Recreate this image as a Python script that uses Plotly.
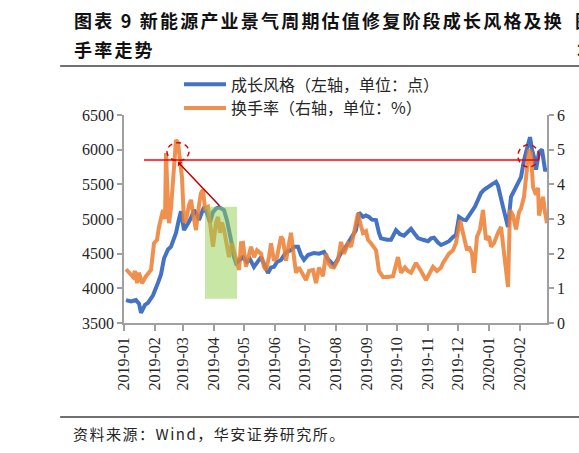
import plotly.graph_objects as go

# 成长风格（左轴，点）
growth_dates = [
    "2019-01-03", "2019-01-08", "2019-01-13", "2019-01-16", "2019-01-18", "2019-01-22", "2019-01-25",
    "2019-01-30", "2019-02-04", "2019-02-07", "2019-02-10", "2019-02-14", "2019-02-17", "2019-02-20",
    "2019-02-22", "2019-02-25", "2019-02-27", "2019-03-02", "2019-03-05", "2019-03-07", "2019-03-10",
    "2019-03-12", "2019-03-15", "2019-03-17", "2019-03-20", "2019-03-22", "2019-03-25", "2019-03-28",
    "2019-03-31", "2019-04-03", "2019-04-06", "2019-04-09", "2019-04-11", "2019-04-14", "2019-04-16",
    "2019-04-18", "2019-04-21", "2019-04-23", "2019-04-26", "2019-04-30", "2019-05-04", "2019-05-07",
    "2019-05-11", "2019-05-14", "2019-05-18", "2019-05-22", "2019-05-25", "2019-05-28", "2019-05-31",
    "2019-06-03", "2019-06-07", "2019-06-12", "2019-06-17", "2019-06-20", "2019-06-24", "2019-06-27",
    "2019-06-30", "2019-07-04", "2019-07-10", "2019-07-15", "2019-07-20", "2019-07-24", "2019-07-27",
    "2019-07-30", "2019-08-02", "2019-08-06", "2019-08-10", "2019-08-13", "2019-08-17", "2019-08-21",
    "2019-08-24", "2019-08-28", "2019-08-31", "2019-09-03", "2019-09-06", "2019-09-10", "2019-09-13",
    "2019-09-15", "2019-09-21", "2019-09-25", "2019-09-30", "2019-10-04", "2019-10-08", "2019-10-12",
    "2019-10-15", "2019-10-19", "2019-10-22", "2019-10-27", "2019-11-01", "2019-11-04", "2019-11-07",
    "2019-11-11", "2019-11-14", "2019-11-18", "2019-11-22", "2019-11-26", "2019-11-29", "2019-12-02",
    "2019-12-06", "2019-12-09", "2019-12-14", "2019-12-18", "2019-12-21", "2019-12-24", "2019-12-27",
    "2020-01-01", "2020-01-04", "2020-01-08", "2020-01-10", "2020-01-15", "2020-01-20", "2020-01-23",
    "2020-01-28", "2020-01-31", "2020-02-02", "2020-02-05", "2020-02-08", "2020-02-11", "2020-02-13",
    "2020-02-15", "2020-02-17", "2020-02-20", "2020-02-23", "2020-02-26", "2020-02-28",
]
growth_values = [
    3830, 3810, 3830, 3780, 3645, 3760, 3790,
    3900, 4080, 4200, 4430, 4560, 4600, 4700,
    4800, 5000, 5110, 4840, 4900, 4960, 5050,
    5130, 5060, 4985, 5100, 5170, 5080, 4950,
    5100, 5150, 5170, 5150, 5130, 4980, 4850,
    4700, 4450, 4365, 4400, 4450, 4380, 4420,
    4310, 4380, 4450, 4320, 4220, 4300, 4310,
    4380, 4410, 4520, 4550, 4600, 4600, 4480,
    4410, 4480, 4510, 4500, 4525, 4420, 4365,
    4330, 4400, 4510, 4580, 4650, 4760, 4840,
    5090, 5030, 5050, 5030, 4990, 4985, 4800,
    4720, 4700, 4700, 4840, 4780, 4760, 4820,
    4860, 4780, 4725, 4700, 4680, 4720, 4730,
    4660, 4625, 4650, 4680, 4740, 4770, 5030,
    4990, 4985, 5090, 5180, 5275, 5375, 5420,
    5460, 5500, 5535, 5480, 5175, 4885, 5320,
    5460, 5520, 5605, 5850, 6040, 6180, 6000,
    5895, 5710, 5965, 6000, 5710, 5705,
]

# 换手率（右轴，%）
turnover_dates = [
    "2019-01-03", "2019-01-06", "2019-01-10", "2019-01-12", "2019-01-14", "2019-01-16", "2019-01-19",
    "2019-01-23", "2019-01-28", "2019-01-31", "2019-02-03", "2019-02-05", "2019-02-09", "2019-02-11",
    "2019-02-12", "2019-02-14", "2019-02-15", "2019-02-17", "2019-02-19", "2019-02-21", "2019-02-22",
    "2019-02-24", "2019-02-26", "2019-02-28", "2019-03-02", "2019-03-04", "2019-03-07", "2019-03-09",
    "2019-03-12", "2019-03-14", "2019-03-17", "2019-03-19", "2019-03-21", "2019-03-23", "2019-03-26",
    "2019-03-29", "2019-03-31", "2019-04-03", "2019-04-05", "2019-04-07", "2019-04-09", "2019-04-11",
    "2019-04-14", "2019-04-16", "2019-04-19", "2019-04-22", "2019-04-24", "2019-04-26", "2019-04-28",
    "2019-04-30", "2019-05-03", "2019-05-06", "2019-05-08", "2019-05-11", "2019-05-14", "2019-05-18",
    "2019-05-21", "2019-05-23", "2019-05-26", "2019-05-28", "2019-05-31", "2019-06-03", "2019-06-07",
    "2019-06-09", "2019-06-12", "2019-06-15", "2019-06-17", "2019-06-20", "2019-06-22", "2019-06-25",
    "2019-06-29", "2019-07-02", "2019-07-05", "2019-07-09", "2019-07-12", "2019-07-15", "2019-07-19",
    "2019-07-22", "2019-07-25", "2019-07-27", "2019-07-30", "2019-08-03", "2019-08-06", "2019-08-09",
    "2019-08-13", "2019-08-16", "2019-08-19", "2019-08-21", "2019-08-23", "2019-08-26", "2019-08-28",
    "2019-08-31", "2019-09-02", "2019-09-05", "2019-09-07", "2019-09-10", "2019-09-13", "2019-09-17",
    "2019-09-22", "2019-09-27", "2019-10-02", "2019-10-05", "2019-10-09", "2019-10-12", "2019-10-15",
    "2019-10-20", "2019-10-25", "2019-10-30", "2019-11-02", "2019-11-06", "2019-11-10", "2019-11-14",
    "2019-11-16", "2019-11-22", "2019-11-26", "2019-11-29", "2019-12-03", "2019-12-07", "2019-12-10",
    "2019-12-12", "2019-12-15", "2019-12-17", "2019-12-20", "2019-12-23", "2019-12-26", "2019-12-29",
    "2020-01-01", "2020-01-03", "2020-01-06", "2020-01-10", "2020-01-13", "2020-01-20", "2020-01-22",
    "2020-01-25", "2020-01-28", "2020-01-31", "2020-02-02", "2020-02-05", "2020-02-08", "2020-02-10",
    "2020-02-12", "2020-02-14", "2020-02-17", "2020-02-19", "2020-02-20", "2020-02-22", "2020-02-24",
    "2020-02-26", "2020-02-28",
]
turnover_values = [
    1.55, 1.45, 1.33, 1.5, 1.15, 1.45, 1.15,
    1.35, 1.53, 2.3, 2.4, 2.77, 3.26, 3.0,
    4.9, 3.4, 2.88, 3.3, 4.2, 4.8, 5.28,
    5.2, 4.6, 4.2, 2.9, 2.97, 3.4, 3.55,
    3.0, 2.68, 3.4, 3.75, 3.84, 3.3, 3.35,
    2.6, 2.2, 2.9, 3.06, 2.6, 2.9, 2.7,
    2.3, 1.9, 2.3, 2.0, 1.7, 1.53, 2.3,
    2.31, 1.62, 2.0, 2.2, 1.9, 2.1, 2.0,
    1.62, 1.53, 1.9, 2.3, 1.8, 1.9, 2.49,
    2.4, 1.8, 2.3, 2.6, 1.9, 1.45, 1.6,
    1.4, 1.24, 1.5, 1.53, 1.15, 1.6, 1.35,
    2.0, 1.7, 1.62, 1.6, 1.82, 2.34, 2.0,
    2.3, 2.2, 2.6, 2.88, 3.17, 2.8, 2.6,
    2.65, 2.4, 2.3, 2.2, 2.1, 1.5, 1.33,
    1.33, 1.35, 1.9, 1.45, 1.6, 1.5, 1.45,
    1.73, 1.5, 1.24, 1.4, 1.62, 1.5, 1.6,
    1.73, 2.0, 2.1, 2.31, 2.97, 2.4, 2.1,
    2.2, 2.0, 1.45, 2.49, 2.7, 3.26, 2.4,
    2.5, 2.2, 2.3, 2.6, 2.77, 1.04, 3.26,
    3.1, 2.7, 3.2, 3.3, 3.64, 4.41, 5.0,
    4.9, 3.92, 3.7, 3.9, 3.1, 3.4, 3.64,
    3.2, 2.88,
]

month_ticks = [
    "2019-01-01", "2019-02-01", "2019-03-01", "2019-04-01", "2019-05-01", "2019-06-01", "2019-07-01",
    "2019-08-01", "2019-09-01", "2019-10-01", "2019-11-01", "2019-12-01", "2020-01-01", "2020-02-01",
]
month_labels = [d[:7] for d in month_ticks]

SERIF = "Liberation Serif, Times New Roman, serif"
CJK = "Noto Sans CJK SC, sans-serif"
AXIS_GREY = "#A0A0A0"
TEXT = "#262626"
TITLE_FONT = dict(family=CJK, size=18, color="#111111", weight="bold")

fig = go.Figure()
fig.add_trace(go.Scatter(
    x=growth_dates, y=growth_values, mode="lines",
    name="成长风格（左轴，单位：点）",
    line=dict(color="#4472C4", width=4),
))
fig.add_trace(go.Scatter(
    x=turnover_dates, y=turnover_values, mode="lines", yaxis="y2",
    name="换手率（右轴，单位：%）",
    line=dict(color="#ED7D31", width=4), opacity=0.85,
))

# 参考线、箭头、区域、圈注
fig.add_shape(type="line", x0="2019-01-21", x1="2020-02-19", y0=5850, y1=5850,
              xref="x", yref="y", line=dict(color="#FF0000", width=1.5), layer="above")
fig.add_shape(type="rect", x0="2019-03-23", x1="2019-04-24", y0=3850, y1=5175,
              xref="x", yref="y", fillcolor="#92D050", opacity=0.5, line=dict(width=0), layer="above")
fig.add_annotation(x="2019-02-24", y=5820, ax="2019-04-08", ay=5170, xref="x", yref="y",
                   axref="x", ayref="y", text="", showarrow=True, arrowhead=1, arrowsize=0.7,
                   arrowwidth=1.5, arrowcolor="#C00000")
for x0, x1, y0, y1 in [("2019-02-13", "2019-03-07", 5840, 6100),
                       ("2020-01-30", "2020-02-20", 5750, 6070)]:
    fig.add_shape(type="circle", x0=x0, x1=x1, y0=y0, y1=y1, xref="x", yref="y",
                  line=dict(color="#E00000", width=1.5, dash="5px,4px"), layer="above")

# 标题、分隔线、资料来源
fig.add_annotation(x=-0.123, y=1.459, xref="paper", yref="paper", xanchor="left", yanchor="middle",
                   showarrow=False,
                   text='<span style="letter-spacing:2.2px">图表 9 新能源产业景气周期估值修复阶段成长风格及换</span>',
                   font=TITLE_FONT)
fig.add_annotation(x=-0.123, y=1.315, xref="paper", yref="paper", xanchor="left", yanchor="middle",
                   showarrow=False,
                   text='<span style="letter-spacing:2.2px">手率走势</span>',
                   font=TITLE_FONT)
# 右侧被截断的相邻栏文字
fig.add_annotation(x=1.062, y=1.459, xref="paper", yref="paper", xanchor="left", yanchor="middle",
                   showarrow=False, text="图", font=TITLE_FONT)
fig.add_annotation(x=1.066, y=1.315, xref="paper", yref="paper", xanchor="left", yanchor="middle",
                   showarrow=False, text="本", font=TITLE_FONT)
fig.add_shape(type="line", xref="paper", yref="paper", x0=-0.151, x1=1.08, y0=1.236, y1=1.236,
              line=dict(color="#404040", width=1.5))
fig.add_shape(type="line", xref="paper", yref="paper", x0=-0.151, x1=1.08, y0=-0.452, y1=-0.452,
              line=dict(color="#404040", width=1.5))
fig.add_annotation(x=-0.125, y=-0.529, xref="paper", yref="paper", xanchor="left", yanchor="middle",
                   showarrow=False,
                   text='<span style="letter-spacing:1.5px">资料来源：Wind，华安证券研究所。</span>',
                   font=dict(family=CJK, size=15, color=TEXT))

fig.update_layout(
    width=579, height=453,
    margin=dict(l=124, r=32, t=115, b=130),
    paper_bgcolor="white", plot_bgcolor="white",
    showlegend=True,
    legend=dict(x=0.13, y=1.229, xanchor="left", yanchor="top", bgcolor="rgba(0,0,0,0)",
                font=dict(family=CJK, size=16, color=TEXT), itemwidth=42, tracegroupgap=0),
    xaxis=dict(
        type="date", range=["2019-01-01", "2020-02-28"],
        tickmode="array", tickvals=month_ticks, ticktext=month_labels, tickangle=-90,
        ticks="outside", ticklen=6, tickcolor=AXIS_GREY, tickwidth=1.5,
        showline=True, linecolor=AXIS_GREY, linewidth=1.5, showgrid=False, zeroline=False,
        tickfont=dict(family=SERIF, size=16, color=TEXT),
    ),
    yaxis=dict(
        range=[3500, 6500], dtick=500, ticks="outside", ticklen=5, tickcolor=AXIS_GREY, tickwidth=1.5,
        showline=True, linecolor=AXIS_GREY, linewidth=1.5, showgrid=False, zeroline=False,
        tickfont=dict(family=SERIF, size=16, color=TEXT),
    ),
    yaxis2=dict(
        range=[0, 6], dtick=1, overlaying="y", side="right", ticks="outside", ticklen=5,
        tickcolor=AXIS_GREY, tickwidth=1.5, showline=True, linecolor=AXIS_GREY, linewidth=1.5,
        showgrid=False, zeroline=False, tickfont=dict(family=SERIF, size=16, color=TEXT),
    ),
)

# 去掉页面默认边距和工具栏，让图从左上角开始
fig.write_html("out.html", config={"displayModeBar": False},
               post_script="document.body.style.margin='0';")
